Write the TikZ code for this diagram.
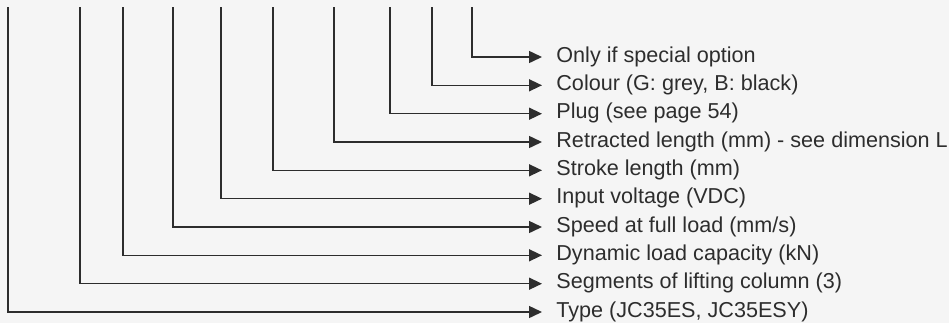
\documentclass[tikz,border=0pt]{standalone}
\usepackage{fontspec}
\setmainfont{Liberation Sans}
\usepackage{tikz}
\usetikzlibrary{arrows.meta}
\usepackage{xcolor}
\definecolor{ink}{RGB}{45,45,45}
\definecolor{paper}{RGB}{245,245,245}
\tikzset{
  lead/.style={draw=ink,line width=0.75pt,-{Triangle[length=6.5pt,width=6pt]}},
  lbl/.style={anchor=mid west,inner xsep=7pt,inner ysep=0pt,text=ink,
    font=\fontsize{10.8}{13}\selectfont},
}
\begin{document}
\begin{tikzpicture}[x=0.5pt,y=-0.5pt]
  \fill[paper] (0,0) rectangle (949,323);
  \useasboundingbox (0,0) rectangle (949,323);
  % code positions, left to right
  \coordinate (cType) at (8,7);
  \coordinate (cSeg) at (80,7);
  \coordinate (cLoad) at (123,7);
  \coordinate (cSpeed) at (173,7);
  \coordinate (cVolt) at (221,7);
  \coordinate (cStroke) at (273,7);
  \coordinate (cRetr) at (334,7);
  \coordinate (cPlug) at (390,7);
  \coordinate (cColour) at (432,7);
  \coordinate (cSpecial) at (472,7);
  % labels
  \node[lbl] (special) at (542,57) {Only if special option};
  \node[lbl] (colour) at (542,85.3) {Colour (G: grey, B: black)};
  \node[lbl] (plug) at (542,113.7) {Plug (see page 54)};
  \node[lbl] (retr) at (542,142) {Retracted length (mm) - see dimension L};
  \node[lbl] (stroke) at (542,170.3) {Stroke length (mm)};
  \node[lbl] (volt) at (542,198.7) {Input voltage (VDC)};
  \node[lbl] (speed) at (542,227) {Speed at full load (mm/s)};
  \node[lbl] (load) at (542,255.3) {Dynamic load capacity (kN)};
  \node[lbl] (seg) at (542,283.7) {Segments of lifting column (3)};
  \node[lbl] (type) at (542,312) {Type (JC35ES, JC35ESY)};
  % leaders
  \draw[lead] (cSpecial) |- (special.mid west);
  \draw[lead] (cColour) |- (colour.mid west);
  \draw[lead] (cPlug) |- (plug.mid west);
  \draw[lead] (cRetr) |- (retr.mid west);
  \draw[lead] (cStroke) |- (stroke.mid west);
  \draw[lead] (cVolt) |- (volt.mid west);
  \draw[lead] (cSpeed) |- (speed.mid west);
  \draw[lead] (cLoad) |- (load.mid west);
  \draw[lead] (cSeg) |- (seg.mid west);
  \draw[lead] (cType) |- (type.mid west);
\end{tikzpicture}
\end{document}
